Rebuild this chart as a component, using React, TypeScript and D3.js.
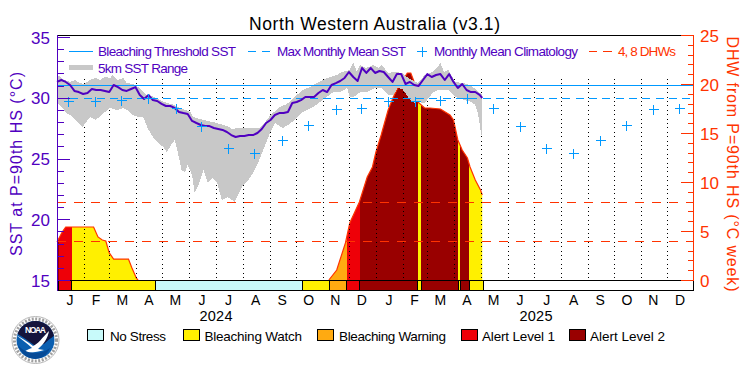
import React from "react";
import * as d3 from "d3";

const sstValues = [31.3,31.46,31.3,31.05,30.56,30.47,30.31,30.39,30.72,30.64,30.64,30.56,30.47,31.05,30.88,30.64,30.56,30.72,30.88,30.23,29.9,30.23,29.81,29.73,29.49,29.32,29.32,29.16,28.83,28.74,28.66,28.09,27.92,27.76,27.67,27.67,27.51,27.43,27.35,27.18,26.93,26.77,26.85,26.85,26.93,26.93,27.1,27.43,27.92,28.17,28.58,28.74,28.74,28.83,29.57,29.65,29.81,30.06,30.06,30.06,30.39,30.64,30.47,31.05,31.21,31.38,31.63,32.12,31.71,31.38,32.45,32.04,32.45,32.04,32.2,32.12,31.71,31.3,31.95,31.95,31.13,31.3,31.05,30.97,31.46,31.95,31.71,31.87,31.95,31.46,31.95,31.3,30.8,31.13,30.64,30.47,30.47,30.23,29.98];

const rangeHighDays = [0,3,8,15,21,26,31,38,44,49,55,61,64,70,76,80,87,95,103,109,118,126,135,141,153,156,168,179,187,195,201,207,218,233,239,245,256,264,271,282,290,298,310,321,327,336,340,344,348,355,363,369,373,380,388,396,403,414,422,431,436,440,444,449,457,466,474,480,488];
const rangeHighValues = [31.87,31.79,31.46,31.3,31.46,31.21,31.13,31.46,31.63,31.46,31.71,31.63,31.87,31.46,31.63,31.21,31.13,30.8,30.23,30.14,29.81,29.57,29.4,29.16,28.83,28.42,28.17,28.0,27.84,27.67,27.43,27.51,27.51,27.51,28.0,28.58,29.24,29.49,29.98,30.64,30.88,31.21,31.63,31.87,32.12,32.28,32.94,32.12,32.7,32.45,32.7,32.45,32.7,32.04,32.12,32.04,31.63,31.21,31.87,32.12,32.45,32.86,32.12,32.28,31.3,31.21,31.05,30.72,30.23];
const rangeLowDays = [0,6,11,17,23,29,32,38,44,49,55,61,69,76,82,87,93,99,104,110,116,122,126,131,135,138,143,147,150,155,158,162,168,173,179,184,189,196,204,212,218,227,233,239,245,250,259,265,273,282,294,305,317,325,333,336,340,344,348,356,365,373,380,386,391,396,400,405,410,414,422,431,437,449,457,468,476,480,483,487,488];
const rangeLowValues = [29.57,29.16,28.74,28.5,28.0,27.59,27.84,28.42,28.17,28.42,28.83,29.16,28.99,29.16,28.91,28.58,28.42,28.42,27.51,26.77,26.28,25.95,25.53,26.11,26.52,25.7,24.05,23.89,24.47,23.64,22.16,22.74,24.05,22.98,23.4,22.98,21.58,21.83,21.42,22.65,23.07,24.05,25.04,26.11,27.18,27.92,27.51,27.76,28.17,28.83,29.24,29.81,30.47,30.47,30.8,30.06,30.06,30.23,30.47,30.47,30.8,30.8,30.23,30.23,30.8,30.72,30.39,29.81,29.57,29.65,29.57,30.39,30.64,30.64,30.06,29.81,29.65,29.4,28.74,26.93,26.93];

const dhwDays = [0,6,10,42,47,52,56,60,65,82,86,91,93,312,321,331,336,347,356,362,366,372,380,386,391,397,402,406,410,412,414,422,428,440,451,455,460,465,471,474,480,486,488];
const dhwValues = [3.88,4.9,5.41,5.41,4.39,4.08,3.98,2.76,2.14,2.14,1.22,0.2,0,0,1.02,3.78,5.82,7.96,10.51,11.53,13.06,14.8,17.35,18.67,19.6,20.4,21.12,21.12,20.2,18.88,18.16,17.55,17.55,17.45,16.84,16.33,14.29,13.27,12.45,11.53,10.2,9.18,8.67];

const climDays = [13,44,73,104,136,165,196,226,258,288,320,349,380,411,439,470,500,531,561,592,623,653,684,714];
const climValues = [29.73,29.73,29.81,29.94,29.16,27.67,25.86,25.45,26.5,27.76,29.07,29.16,29.73,29.73,29.81,29.94,29.16,27.67,25.86,25.45,26.5,27.76,29.07,29.16];

const thresholdSST = 31.05;
const maxMonthlyMean = 29.98;
const dhwLevels = [4, 8];

const statusStarts = [0,2,17,112.5,282,313,332.5,347.5,414,418,460.5,463,473];
const statusEnds = [2,17,112.5,282,313,332.5,347.5,414,418,460.5,463,473,489];
const statusKinds = [4,3,1,0,1,2,3,4,1,4,1,4,1];
const statusColors = ["#c8fafa","#fff000","#ffaa11","#ee0008","#990000"];
const statusNames = ["No Stress","Bleaching Watch","Bleaching Warning","Alert Level 1","Alert Level 2"];

const monthLetters = ["J","F","M","A","M","J","J","A","S","O","N","D"];
const monthStarts2024 = [0,31,60,91,121,152,182,213,244,274,305,335];
const monthLengths = [31,29,31,30,31,30,31,31,30,31,30,31];
const leftTicks = [15,20,25,30,35];
const rightTicks = [0,5,10,15,20,25];

const PURPLE = "#5000c0";
const ORANGE = "#ff3300";
const BLUE = "#0099ff";
const FONT = "'Liberation Sans', Arial, sans-serif";

const x = d3.scaleLinear().domain([0, 731]).range([57, 694]);
const yL = d3.scaleLinear().domain([15, 35]).range([280, 37]);
const yR = d3.scaleLinear().domain([0, 25]).range([280, 35]);
const snap = (v: number) => Math.round(v) + 0.5;

const T = (p: any) => (
  <text fontFamily={FONT} dominantBaseline="central" lengthAdjust="spacing" {...p}>{p.children}</text>
);

export default function App() {
  const sst = sstValues.map((v, i) => [x(Math.min(i * 5, 488)), yL(v)] as [number, number]);
  const line = d3.line();
  const hi = rangeHighDays.map((d, i) => [x(d), yL(rangeHighValues[i])] as [number, number]);
  const lo = rangeLowDays.map((d, i) => [x(d), yL(rangeLowValues[i])] as [number, number]).reverse();
  const dhw = dhwDays.map((d, i) => [x(d), yR(dhwValues[i])] as [number, number]);
  const dhwA = dhw.filter((_, i) => dhwDays[i] <= 93);
  const dhwB = dhw.filter((_, i) => dhwDays[i] >= 312);
  const area = d3.area<[number, number]>().x(d => d[0]).y0(yR(0)).y1(d => d[1]);

  const monthCenters: { l: string; c: number; s: number }[] = [];
  [0, 366].forEach((off, yr) => {
    monthStarts2024.forEach((s, m) => {
      const start = yr === 0 ? s : off + s - (m >= 2 ? 1 : 0);
      const len = yr === 1 && m === 1 ? 28 : monthLengths[m];
      monthCenters.push({ l: monthLetters[m], c: x(start + len / 2) - 0.5, s: start });
    });
  });

  const legendTop = [
    { t: "Bleaching Threshold SST", x: 98, w: 138, c: PURPLE },
    { t: "Max Monthly Mean SST", x: 277, w: 129, c: PURPLE },
    { t: "Monthly Mean Climatology", x: 434, w: 144, c: PURPLE },
    { t: "4, 8 DHWs", x: 618, w: 58, c: ORANGE },
  ];
  const swatches = [
    { x: 87.5, tx: 110, w: 56 },
    { x: 183, tx: 204.5, w: 97.5 },
    { x: 317, tx: 339, w: 107 },
    { x: 461, tx: 482, w: 73 },
    { x: 569, tx: 590, w: 75 },
  ];

  return (
    <svg width={750} height={375} viewBox="0 0 750 375"
      style={{ position: "absolute", left: 0, top: 0, display: "block", background: "#fff" }}>
      <defs>
        <clipPath id="dhwClip"><path d={area(dhw) as string} /></clipPath>
        <clipPath id="logoClip"><circle cx={35.5} cy={340} r={19} /></clipPath>
      </defs>

      <T x={374.5} y={24} fontSize={17.5} textAnchor="middle" textLength={251} fill="#000">North Western Australia (v3.1)</T>

      <g clipPath="url(#dhwClip)" shapeRendering="crispEdges">
        {statusStarts.map((s, i) => (
          <rect key={i} x={x(s)} y={30} width={x(statusEnds[i]) - x(s)} height={255} fill={statusColors[statusKinds[i]]} />
        ))}
      </g>
      <path d={line(dhwA) as string} fill="none" stroke={ORANGE} strokeWidth={1.2} />
      <path d={line(dhwB) as string} fill="none" stroke={ORANGE} strokeWidth={1.2} />

      {monthCenters.filter(m => m.s > 0).map((m, i) => (
        <line key={i} x1={snap(x(m.s))} x2={snap(x(m.s))} y1={79} y2={280}
          stroke="#000" strokeWidth={1} strokeDasharray="1 3.4" shapeRendering="crispEdges" />
      ))}

      <path d={(line(hi) as string) + "L" + (line(lo) as string).slice(1) + "Z"} fill="#c8c8c8" shapeRendering="crispEdges" />

      <g shapeRendering="crispEdges">
        <line x1={57} x2={694} y1={snap(yL(thresholdSST))} y2={snap(yL(thresholdSST))} stroke={BLUE} />
        <line x1={57} x2={694} y1={snap(yL(maxMonthlyMean))} y2={snap(yL(maxMonthlyMean))} stroke={BLUE} strokeDasharray="8 5.3" />
        {dhwLevels.map(l => (
          <line key={l} x1={57} x2={694} y1={snap(yR(l))} y2={snap(yR(l))} stroke={ORANGE} strokeDasharray="8.5 8.5" />
        ))}
      </g>

      <path d={line(sst) as string} fill="none" stroke={PURPLE} strokeWidth={2} strokeLinejoin="round" />

      <g shapeRendering="crispEdges">
        {climDays.map((d, i) => {
          const cx = snap(x(d));
          const cy = snap(yL(climValues[i]));
          return <path key={i} d={`M${cx - 5} ${cy}h10M${cx} ${cy - 5}v10`} stroke={BLUE} fill="none" />;
        })}
      </g>

      <g shapeRendering="crispEdges">
        {statusStarts.map((s, i) => (
          <rect key={i} x={x(s)} y={280.5} width={x(statusEnds[i]) - x(s)} height={10}
            fill={statusColors[statusKinds[i]]} stroke="#000" strokeWidth={1} />
        ))}
        <line x1={57} x2={694} y1={280.5} y2={280.5} stroke="#000" />
        <line x1={57} x2={694} y1={290.5} y2={290.5} stroke="#000" />
        <line x1={57} x2={694} y1={35.5} y2={35.5} stroke="#000" />
        <line x1={693.5} x2={693.5} y1={280} y2={291} stroke="#000" />
        <line x1={57.5} x2={57.5} y1={35} y2={291} stroke={PURPLE} />
        <line x1={693.5} x2={693.5} y1={35} y2={280} stroke={ORANGE} />
        {d3.range(15, 36).map(v => (
          <line key={v} x1={57} x2={v % 5 === 0 ? 70 : 64} y1={snap(yL(v))} y2={snap(yL(v))} stroke={PURPLE} />
        ))}
        {d3.range(0, 26).map(v => (
          <line key={v} x1={v % 5 === 0 ? 681 : 688} x2={694} y1={snap(yR(v))} y2={snap(yR(v))} stroke={ORANGE} />
        ))}
      </g>

      {leftTicks.map(v => (
        <T key={v} x={50} y={yL(v) + 1} fontSize={17} textAnchor="end" fill={PURPLE}>{v}</T>
      ))}
      {rightTicks.map(v => (
        <T key={v} x={700} y={yR(v) + 1} fontSize={17} fill={ORANGE}>{v}</T>
      ))}
      <T transform="translate(16,164) rotate(-90)" fontSize={16} textAnchor="middle" textLength={184} fill={PURPLE}>SST at P=90th HS (°C)</T>
      <T transform="translate(732,164) rotate(90)" fontSize={16} textAnchor="middle" textLength={255} fill={ORANGE}>DHW from P=90th HS (°C week)</T>

      {monthCenters.map((m, i) => (
        <T key={i} x={m.c} y={299.5} fontSize={14} textAnchor="middle" fill="#000">{m.l}</T>
      ))}
      <T x={216} y={316} fontSize={14.5} textAnchor="middle" textLength={33} fill="#000">2024</T>
      <T x={536} y={316} fontSize={14.5} textAnchor="middle" textLength={33} fill="#000">2025</T>

      <g shapeRendering="crispEdges">
        <line x1={69} x2={93} y1={51.5} y2={51.5} stroke={BLUE} />
        <line x1={248} x2={256} y1={51.5} y2={51.5} stroke={BLUE} />
        <line x1={262} x2={270} y1={51.5} y2={51.5} stroke={BLUE} />
        <path d="M417 51.5h10M422.5 46.5v10" stroke={BLUE} fill="none" />
        <line x1={589} x2={597} y1={51.5} y2={51.5} stroke={ORANGE} />
        <line x1={603} x2={612} y1={51.5} y2={51.5} stroke={ORANGE} />
        <rect x={69} y={65} width={24} height={5} fill="#c8c8c8" />
      </g>
      {legendTop.map(l => (
        <T key={l.t} x={l.x} y={51} fontSize={13.5} textLength={l.w} fill={l.c}>{l.t}</T>
      ))}
      <T x={98} y={68} fontSize={13.5} textLength={90} fill={PURPLE}>5km SST Range</T>

      {swatches.map((s, i) => (
        <g key={i}>
          <rect x={s.x} y={329.5} width={16} height={11} fill={statusColors[i]} stroke="#000" shapeRendering="crispEdges" />
          <T x={s.tx} y={336} fontSize={13.5} textLength={s.w} fill="#000">{statusNames[i]}</T>
        </g>
      ))}

      <g>
        <circle cx={35.5} cy={340} r={23.5} fill="#fff" stroke="#b8b8b8" strokeWidth={1} />
        <circle cx={35.5} cy={340} r={21} fill="none" stroke="#a0a0a0" strokeWidth={3} strokeDasharray="2 1.5" />
        <g clipPath="url(#logoClip)">
          <rect x={15} y={320} width={41} height={40} fill="#0b5fb0" />
          <path d="M14 318h44v14c-6 6 -10 8 -14 12c-4 1 -8 1 -10 1c-6 -4 -12 -9 -20 -13z" fill="#14143c" />
          <path d="M16 335c6 3 12 7 17 11c4 -1 10 -9 16 -15c-1 7 -6 14 -11 18l6 1c-6 2 -13 3 -20 2c2 -2 5 -3 8 -4c-5 -5 -11 -9 -16 -13z" fill="#fff" />
          <path d="M18 345c6 8 20 12 32 3c-3 8 -10 11 -16 11c-7 0 -13 -6 -16 -14z" fill="#064a96" />
        </g>
        <text x={35.5} y={333} fontFamily={FONT} fontWeight="bold" fontSize={8.5} textAnchor="middle" fill="#fff" textLength={21}>NOAA</text>
      </g>
    </svg>
  );
}
